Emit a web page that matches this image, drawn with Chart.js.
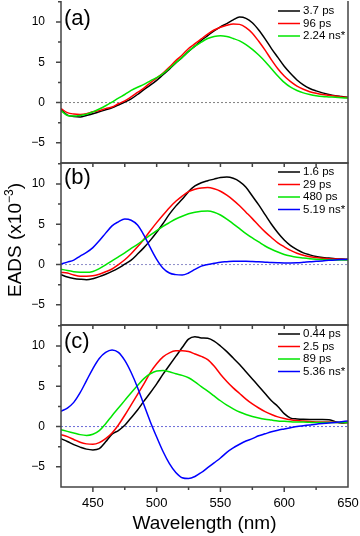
<!DOCTYPE html>
<html>
<head>
<meta charset="utf-8">
<script src="https://cdn.jsdelivr.net/npm/chart.js@4.4.0/dist/chart.umd.min.js"></script>
<style>
    html, body { margin: 0; padding: 0; background: #fff; }
    #wrap { position: relative; width: 360px; height: 536px; overflow: hidden; }
    canvas { position: absolute; left: 0; }
</style>
</head>
<body>
<div id="wrap">
    <canvas id="panelA" width="360" height="165" style="top:0px"></canvas>
    <canvas id="panelB" width="360" height="166" style="top:161px"></canvas>
    <canvas id="panelC" width="360" height="216" style="top:323px"></canvas>
</div>
<script>
"use strict";

// wavelength grid (nm)
const wavelengths = [425, 430, 435, 440, 445, 450, 455, 460, 465, 470,
    475, 480, 485, 490, 495, 500, 505, 510, 515, 520,
    525, 530, 535, 540, 545, 550, 555, 560, 565, 570,
    575, 580, 585, 590, 595, 600, 605, 610, 615, 620,
    625, 630, 635, 640, 645, 650];

// panel (a)
const a_3_7ps = [-0.86, -1.55, -1.72, -1.78, -1.6, -1.4, -1.15, -0.9, -0.64, -0.3,
    0.05, 0.45, 1.0, 1.6, 2.15, 2.75, 3.45, 4.15, 4.9, 5.6,
    6.35, 7.0, 7.7, 8.3, 8.9, 9.4, 9.8, 10.25, 10.6, 10.45,
    9.9, 9.0, 7.9, 6.7, 5.6, 4.5, 3.6, 2.8, 2.2, 1.75,
    1.45, 1.2, 1.0, 0.85, 0.75, 0.65];
const a_96ps = [-0.74, -1.25, -1.42, -1.47, -1.38, -1.15, -1.0, -0.75, -0.55, -0.15,
    0.2, 0.7, 1.25, 1.8, 2.45, 3.05, 3.65, 4.4, 5.2, 5.9,
    6.7, 7.3, 7.9, 8.5, 9.0, 9.35, 9.6, 9.75, 9.7, 9.3,
    8.6, 7.6, 6.5, 5.3, 4.2, 3.3, 2.6, 2.05, 1.65, 1.35,
    1.15, 1.0, 0.9, 0.8, 0.7, 0.6];
const a_2_24ns = [-0.98, -1.6, -1.68, -1.6, -1.45, -1.15, -0.8, -0.4, 0.05, 0.55,
    1.0, 1.5, 1.9, 2.25, 2.7, 3.1, 3.6, 4.25, 4.95, 5.6,
    6.35, 7.0, 7.5, 7.95, 8.2, 8.3, 8.2, 7.95, 7.65, 7.2,
    6.6, 5.9, 5.1, 4.2, 3.3, 2.5, 1.9, 1.5, 1.2, 1.0,
    0.85, 0.75, 0.7, 0.65, 0.6, 0.55];

// panel (b)
const b_1_6ps = [-1.27, -1.55, -1.72, -1.82, -1.88, -1.75, -1.5, -1.2, -0.85, -0.45,
    0.05, 0.55, 1.3, 2.1, 3.0, 4.0, 5.1, 6.25, 7.25, 8.1,
    9.05, 9.75, 10.15, 10.4, 10.6, 10.8, 10.85, 10.7, 10.3, 9.6,
    8.5, 7.4, 6.2, 5.0, 3.95, 3.05, 2.35, 1.85, 1.45, 1.2,
    1.0, 0.88, 0.8, 0.72, 0.68, 0.65];
const b_29ps = [-0.98, -1.05, -1.3, -1.45, -1.45, -1.4, -1.2, -0.9, -0.55, 0.0,
    0.6, 1.35, 2.2, 3.15, 4.2, 5.2, 6.15, 7.05, 7.85, 8.5,
    9.05, 9.35, 9.5, 9.55, 9.4, 9.1, 8.6, 8.0, 7.3, 6.5,
    5.7, 4.85, 4.05, 3.35, 2.7, 2.2, 1.75, 1.4, 1.15, 0.98,
    0.87, 0.78, 0.72, 0.68, 0.65, 0.62];
const b_480ps = [-0.57, -0.75, -0.88, -0.95, -0.97, -0.86, -0.5, -0.05, 0.47, 0.95,
    1.45, 2.0, 2.5, 3.1, 3.65, 4.2, 4.73, 5.2, 5.65, 6.0,
    6.3, 6.5, 6.62, 6.65, 6.5, 6.15, 5.65, 5.05, 4.45, 3.85,
    3.3, 2.8, 2.3, 1.9, 1.55, 1.25, 1.05, 0.9, 0.8, 0.72,
    0.66, 0.62, 0.6, 0.58, 0.57, 0.57];
const b_5_19ns = [0.05, 0.3, 0.55, 1.05, 1.5, 2.1, 2.95, 3.9, 4.8, 5.3,
    5.65, 5.5, 4.9, 3.65, 2.1, 0.65, -0.45, -1.05, -1.25, -1.3,
    -1.05, -0.6, -0.2, 0.0, 0.15, 0.3, 0.35, 0.4, 0.4, 0.4,
    0.38, 0.35, 0.3, 0.25, 0.22, 0.2, 0.2, 0.22, 0.28, 0.35,
    0.4, 0.45, 0.52, 0.58, 0.62, 0.65];

// panel (c)
const c_0_44ps = [-1.5, -1.85, -2.25, -2.55, -2.8, -2.9, -2.75, -1.9, -0.95, -0.5,
    0.15, 1.1, 2.05, 3.15, 4.2, 5.3, 6.5, 7.6, 8.7, 9.8,
    10.85, 11.15, 11.0, 10.95, 10.6, 10.0, 9.3, 8.5, 7.7, 6.8,
    5.9, 5.0, 4.1, 3.2, 2.5, 1.6, 1.05, 0.95, 0.9, 0.88,
    0.88, 0.88, 0.85, 0.6, 0.45, 0.5];
const c_2_5ps = [-1.0, -1.25, -1.6, -1.95, -2.15, -2.2, -2.0, -1.5, -0.8, 0.2,
    1.4, 2.7, 4.0, 5.3, 6.7, 7.8, 8.65, 9.15, 9.4, 9.42,
    9.3, 9.0, 8.7, 8.3, 7.5, 6.5, 5.6, 4.8, 4.1, 3.4,
    2.8, 2.3, 1.85, 1.5, 1.2, 1.0, 0.85, 0.75, 0.68, 0.62,
    0.58, 0.55, 0.55, 0.52, 0.5, 0.5];
const c_89ps = [-0.4, -0.6, -0.8, -1.0, -1.1, -0.95, -0.5, 0.35, 1.35, 2.3,
    3.25, 4.2, 5.1, 5.95, 6.55, 6.9, 6.95, 6.8, 6.55, 6.35,
    6.05, 5.55, 4.95, 4.4, 3.8, 3.2, 2.65, 2.2, 1.8, 1.5,
    1.25, 1.05, 0.9, 0.8, 0.7, 0.65, 0.6, 0.55, 0.55, 0.52,
    0.5, 0.5, 0.5, 0.5, 0.5, 0.5];
const c_5_36ns = [1.9, 2.3, 3.0, 4.2, 5.7, 7.2, 8.45, 9.2, 9.5, 9.2,
    8.2, 6.7, 4.85, 2.7, 0.6, -1.3, -3.1, -4.6, -5.7, -6.35,
    -6.45, -6.2, -5.7, -5.1, -4.5, -3.9, -3.2, -2.65, -2.2, -1.8,
    -1.5, -1.15, -0.9, -0.65, -0.45, -0.3, -0.15, 0.0, 0.1, 0.2,
    0.3, 0.38, 0.45, 0.5, 0.6, 0.7];

// axis ticks
const xTickLabels = [450, 500, 550, 600, 650];
const yTickLabels = [-5, 0, 5, 10];

const FONT = "'Liberation Sans', Arial, sans-serif";
const colors = ['#000000', '#ff0000', '#00e600', '#0000ff'];

function toPoints(vals) {
    return vals.map((v, i) => ({ x: wavelengths[i], y: v }));
}

// frame, tick marks, legend and panel letter
const framePlugin = {
    id: 'frame',
    afterDatasetsDraw(chart, args, opts) {
        const { ctx, chartArea: { left, right, top, bottom }, scales: { x, y } } = chart;
        ctx.save();
        ctx.strokeStyle = '#444';
        ctx.lineWidth = 1.5;
        ctx.beginPath();
        ctx.moveTo(left, top); ctx.lineTo(left, bottom);
        ctx.moveTo(right, top); ctx.lineTo(right, bottom);
        ctx.moveTo(left - 0.75, bottom); ctx.lineTo(right + 0.75, bottom);
        if (opts.topTicks) {
            ctx.moveTo(left - 0.75, top); ctx.lineTo(right + 0.75, top);
        }
        // y ticks (major every 5, minor every 2.5)
        for (let v = -5; v <= 12.5; v += 2.5) {
            const py = y.getPixelForValue(v);
            const len = v % 5 === 0 ? 5 : 3;
            ctx.moveTo(left - len, py); ctx.lineTo(left, py);
        }
        // x ticks every 25 nm
        for (let w = 450; w < 650; w += 25) {
            const px = x.getPixelForValue(w);
            if (opts.topTicks) { ctx.moveTo(px, top); ctx.lineTo(px, top + 4); }
            if (opts.bottomTicks) {
                const len = w % 50 === 0 ? 5 : 3;
                ctx.moveTo(px, bottom); ctx.lineTo(px, bottom + len);
            }
        }
        ctx.stroke();

        // legend
        ctx.font = '11.5px ' + FONT;
        ctx.textBaseline = 'middle';
        ctx.fillStyle = '#000';
        ctx.lineWidth = 1.5;
        let row = 0;
        chart.data.datasets.forEach(ds => {
            if (!ds.inLegend) return;
            const ly = 11 + row * 12.5 + top - opts.padTop;
            ctx.strokeStyle = ds.borderColor;
            ctx.beginPath();
            ctx.moveTo(278, ly); ctx.lineTo(300, ly);
            ctx.stroke();
            ctx.fillText(ds.label, 303, ly);
            row++;
        });

        // panel letter
        ctx.font = '22px ' + FONT;
        ctx.fillText(opts.letter, 64, opts.letterY);
        ctx.restore();
    }
};

// y-axis title with superscript, drawn on panel (b)
const yTitlePlugin = {
    id: 'ytitle',
    afterDraw(chart, args, opts) {
        if (!opts.show) return;
        const ctx = chart.ctx;
        ctx.save();
        ctx.translate(15, 79);
        ctx.rotate(-Math.PI / 2);
        ctx.fillStyle = '#000';
        ctx.textBaseline = 'middle';
        const big = '19px ' + FONT, small = '12px ' + FONT;
        const p1 = 'EADS (x10', p2 = '\u22123', p3 = ')';
        ctx.font = big; const w1 = ctx.measureText(p1).width, w3 = ctx.measureText(p3).width;
        ctx.font = small; const w2 = ctx.measureText(p2).width;
        let sx = -(w1 + w2 + w3) / 2;
        ctx.font = big; ctx.fillText(p1, sx, 1); sx += w1;
        ctx.font = small; ctx.fillText(p2, sx, -5); sx += w2;
        ctx.font = big; ctx.fillText(p3, sx, 1);
        ctx.restore();
    }
};

function makePanel(canvasId, labels, seriesList, zeroColor, opts) {
    const datasets = seriesList.map((vals, i) => ({
        label: labels[i],
        inLegend: true,
        data: toPoints(vals),
        borderColor: colors[i],
        borderWidth: 1.5,
        pointRadius: 0,
        cubicInterpolationMode: 'monotone',
        order: 10 - i
    }));
    // dotted zero line
    datasets.push({
        label: '',
        inLegend: false,
        data: [{ x: 425, y: 0 }, { x: 650, y: 0 }],
        borderColor: zeroColor,
        borderWidth: 1,
        borderDash: [2, 2],
        pointRadius: 0,
        order: 20
    });

    return new Chart(document.getElementById(canvasId), {
        type: 'line',
        data: { datasets: datasets },
        plugins: [framePlugin, yTitlePlugin],
        options: {
            responsive: false,
            maintainAspectRatio: false,
            animation: false,
            devicePixelRatio: 1,
            layout: { padding: { left: 0, right: 12, top: opts.padTop, bottom: opts.padBottom } },
            plugins: {
                legend: { display: false },
                tooltip: { enabled: false },
                frame: opts,
                ytitle: { show: !!opts.yTitle }
            },
            scales: {
                x: {
                    type: 'linear',
                    min: 425,
                    max: 650,
                    display: !!opts.showX,
                    afterBuildTicks: s => { s.ticks = xTickLabels.map(v => ({ value: v })); },
                    afterFit: s => {
                        s.height = opts.showX ? 52 : 0;
                        s.paddingLeft = 0; s.paddingRight = 0;
                    },
                    grid: { display: false },
                    border: { display: false },
                    ticks: {
                        autoSkip: false,
                        maxRotation: 0,
                        padding: 1,
                        color: '#000',
                        font: { family: FONT, size: 13 }
                    },
                    title: {
                        display: true,
                        text: 'Wavelength (nm)',
                        color: '#000',
                        font: { family: FONT, size: 19 }
                    }
                },
                y: {
                    min: -7.5,
                    max: 12.6,
                    afterBuildTicks: s => { s.ticks = yTickLabels.map(v => ({ value: v })); },
                    afterFit: s => {
                        s.width = 61;
                        s.paddingTop = 0; s.paddingBottom = 0;
                    },
                    grid: { display: false },
                    border: { display: false },
                    ticks: {
                        padding: 8,
                        color: '#000',
                        font: { family: FONT, size: 12 },
                        callback: v => v < 0 ? '\u2212' + Math.abs(v) : String(v)
                    }
                }
            }
        }
    });
}

makePanel('panelA', ['3.7 ps', '96 ps', '2.24 ns*'], [a_3_7ps, a_96ps, a_2_24ns], '#808080',
    { padTop: 1, padBottom: 2, letter: '(a)', letterY: 19 });
makePanel('panelB', ['1.6 ps', '29 ps', '480 ps', '5.19 ns*'], [b_1_6ps, b_29ps, b_480ps, b_5_19ns], '#8c8cc8',
    { padTop: 2, padBottom: 2, letter: '(b)', letterY: 17, topTicks: true, yTitle: true });
makePanel('panelC', ['0.44 ps', '2.5 ps', '89 ps', '5.36 ns*'], [c_0_44ps, c_2_5ps, c_89ps, c_5_36ns], '#6a6ad8',
    { padTop: 2, padBottom: 0, letter: '(c)', letterY: 19, topTicks: true, bottomTicks: true, showX: true });
</script>
</body>
</html>
